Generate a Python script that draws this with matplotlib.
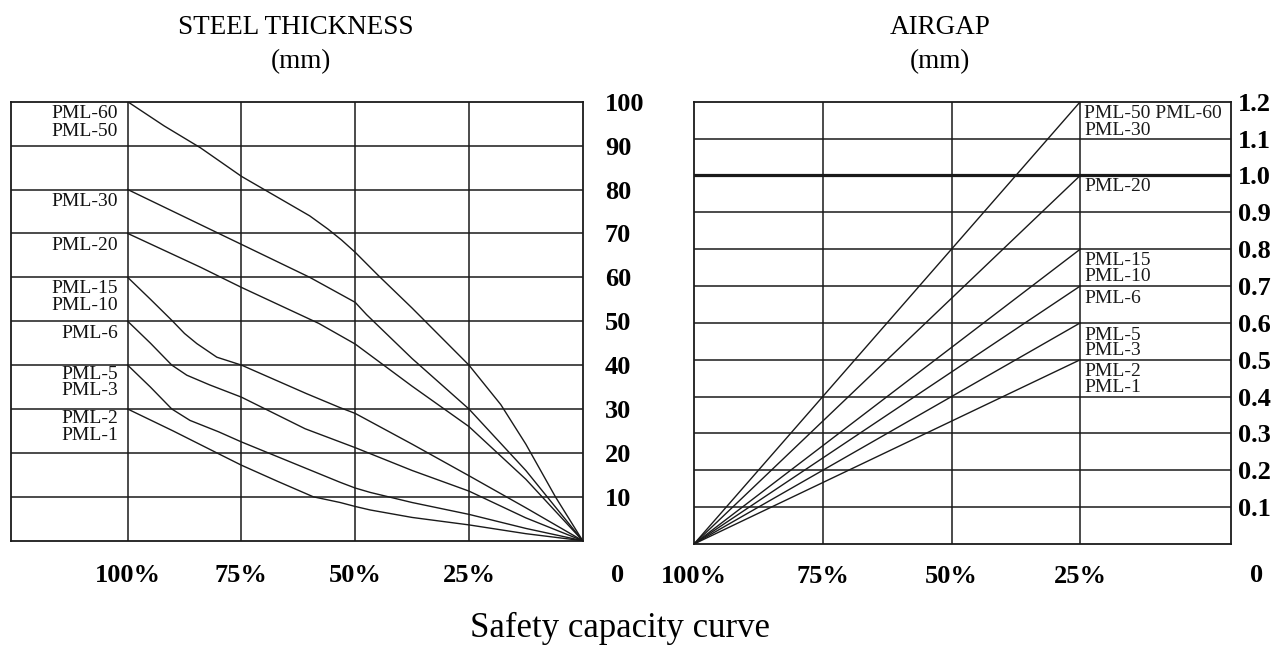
import matplotlib.pyplot as plt

plt.rcParams['font.family'] = ['Liberation Serif', 'DejaVu Serif']

# ---- data ----
# steel thickness curves (percent capacity -> thickness in mm)
pct_60 = [100, 92, 84, 75, 65, 60, 56, 53, 50, 45, 37.5, 25, 18, 12.5, 6, 0]
thk_60 = [100, 94.5, 89.5, 83, 77, 74, 71, 68.5, 65.7, 60.5, 53, 40, 31, 22, 10, 0]

pct_30 = [100, 84, 75, 60, 50, 47.5, 37.5, 25, 12.5, 0]
thk_30 = [80, 72, 67.5, 60, 54.3, 51.5, 41.5, 30, 16, 0]

pct_20 = [100, 84, 75, 58, 50, 37.5, 25, 12.5, 0]
thk_20 = [70, 62.3, 57.7, 49.5, 44.8, 35.2, 26, 14, 0]

pct_15 = [100, 95, 90.3, 87.5, 84.8, 80.4, 75, 60.7, 53.3, 50, 37.5, 25, 12.5, 0]
thk_15 = [60, 55, 50.2, 47.2, 44.9, 41.8, 40, 33.5, 30.3, 29, 22, 14.8, 7.5, 0]

pct_6 = [100, 95, 90.3, 87, 82, 75, 61, 50, 37.5, 25, 12.5, 0]
thk_6 = [50, 45, 40, 37.7, 35.5, 32.7, 25.5, 21.2, 16, 11.3, 5.2, 0]

pct_5 = [100, 95, 90.3, 86.3, 80, 75, 62.5, 53.3, 50, 46.7, 37.5, 25, 12.5, 0]
thk_5 = [40, 35, 30, 27.4, 24.8, 22.5, 17.2, 13.3, 12, 11, 8.7, 6, 2.8, 0]

pct_2 = [100, 90, 80.4, 75, 67, 59.2, 53.3, 50, 46.7, 37.5, 25, 12.5, 0]
thk_2 = [30, 25, 20, 17.2, 13.5, 10, 8.7, 7.8, 7, 5.3, 3.6, 1.6, 0]

steel_curves = [(pct_60, thk_60), (pct_30, thk_30), (pct_20, thk_20),
                (pct_15, thk_15), (pct_6, thk_6), (pct_5, thk_5), (pct_2, thk_2)]

steel_labels = ['PML-60', 'PML-50', 'PML-30', 'PML-20', 'PML-15', 'PML-10',
                'PML-6', 'PML-5', 'PML-3', 'PML-2', 'PML-1']
steel_label_y = [97.3, 93.3, 77.2, 67.2, 57.4, 53.6, 47.3, 37.9, 34.3, 27.9, 24.0]

# airgap lines: straight from (100%, 0) to (25%, value)
airgap_pct = [100, 25]
airgap_end = [1.2, 1.0, 0.8, 0.7, 0.6, 0.5]

airgap_labels = ['PML-50 PML-60', 'PML-30', 'PML-20', 'PML-15', 'PML-10',
                 'PML-6', 'PML-5', 'PML-3', 'PML-2', 'PML-1']
airgap_label_y = [1.169, 1.123, 0.969, 0.770, 0.725, 0.667, 0.567, 0.526, 0.467, 0.424]

pct_ticks = [100, 75, 50, 25]
pct_ticklabels = ['100%', '75%', '50%', '25%']
steel_ticks = list(range(10, 101, 10))
airgap_ticks = [0.1, 0.2, 0.3, 0.4, 0.5, 0.6, 0.7, 0.8, 0.9, 1.0, 1.1, 1.2]

# ---- figure ----
W, H = 1284, 646
fig = plt.figure(figsize=(W / 100, H / 100), dpi=100)


def px_box(x0, y0, x1, y1):
    return [x0 / W, 1 - y1 / H, (x1 - x0) / W, (y1 - y0) / H]


ink = '#1a1a1a'
grid_kw = dict(color=ink, lw=1.1, zorder=1)
line_kw = dict(color=ink, lw=1.0, zorder=2)
tick_font = dict(fontsize=19, fontweight='bold')

# left panel: steel thickness
ax1 = fig.add_axes(px_box(10.7, 101.7, 582.7, 540.7))
ax1.set_xlim(125.7, 0)
ax1.set_ylim(0, 100)
for v in range(10, 100, 10):
    ax1.axhline(v, **grid_kw)
for x in pct_ticks:
    ax1.axvline(x, **grid_kw)
for xs, ys in steel_curves:
    ax1.plot(xs, ys, **line_kw)
for lab, y in zip(steel_labels, steel_label_y):
    ax1.text(102.1, y, lab, ha='right', va='center', fontsize=14, color='#111111')

ax1.set_xticks(pct_ticks)
ax1.set_xticklabels(pct_ticklabels, **tick_font)
ax1.yaxis.tick_right()
ax1.set_yticks(steel_ticks)
ax1.set_yticklabels([str(t) for t in steel_ticks], ha='left', **tick_font)
ax1.tick_params(axis='x', length=0, pad=17)
ax1.tick_params(axis='y', length=0, pad=16)
for s in ax1.spines.values():
    s.set_linewidth(1.3)
    s.set_color(ink)

# right panel: airgap
ax2 = fig.add_axes(px_box(694, 101.7, 1231, 544))
ax2.set_xlim(100, -4.26)
ax2.set_ylim(0, 1.2)
for v in airgap_ticks[:-1]:
    ax2.axhline(v, **grid_kw)
ax2.axhline(1.0, color=ink, lw=2.3, zorder=3)
for x in pct_ticks[1:]:
    ax2.axvline(x, **grid_kw)
for end in airgap_end:
    ax2.plot(airgap_pct, [0, end], **line_kw)
for lab, y in zip(airgap_labels, airgap_label_y):
    ax2.text(24.3, y, lab, ha='left', va='center', fontsize=14, color=ink)

ax2.set_xticks(pct_ticks)
ax2.set_xticklabels(pct_ticklabels, **tick_font)
ax2.yaxis.tick_right()
ax2.set_yticks(airgap_ticks)
ax2.set_yticklabels([f'{t:.1f}' for t in airgap_ticks], ha='left', **tick_font)
ax2.tick_params(axis='x', length=0, pad=15)
ax2.tick_params(axis='y', length=0, pad=5)
for s in ax2.spines.values():
    s.set_linewidth(1.3)
    s.set_color(ink)

# zero labels sit on the row of the percent labels
fig.text(618 / W, 1 - 576 / H, '0', ha='center', va='center', **tick_font)
fig.text(1257 / W, 1 - 576 / H, '0', ha='center', va='center', **tick_font)

# titles
fig.text(296 / W, 1 - 28 / H, 'STEEL THICKNESS', ha='center', va='center', fontsize=19.5)
fig.text(301 / W, 1 - 62 / H, '(mm)', ha='center', va='center', fontsize=19.5)
fig.text(940 / W, 1 - 28 / H, 'AIRGAP', ha='center', va='center', fontsize=19.5)
fig.text(940 / W, 1 - 62 / H, '(mm)', ha='center', va='center', fontsize=19.5)
fig.text(620 / W, 1 - 628 / H, 'Safety capacity curve', ha='center', va='center', fontsize=25)

fig.savefig('out.png', dpi=100, facecolor='white')
